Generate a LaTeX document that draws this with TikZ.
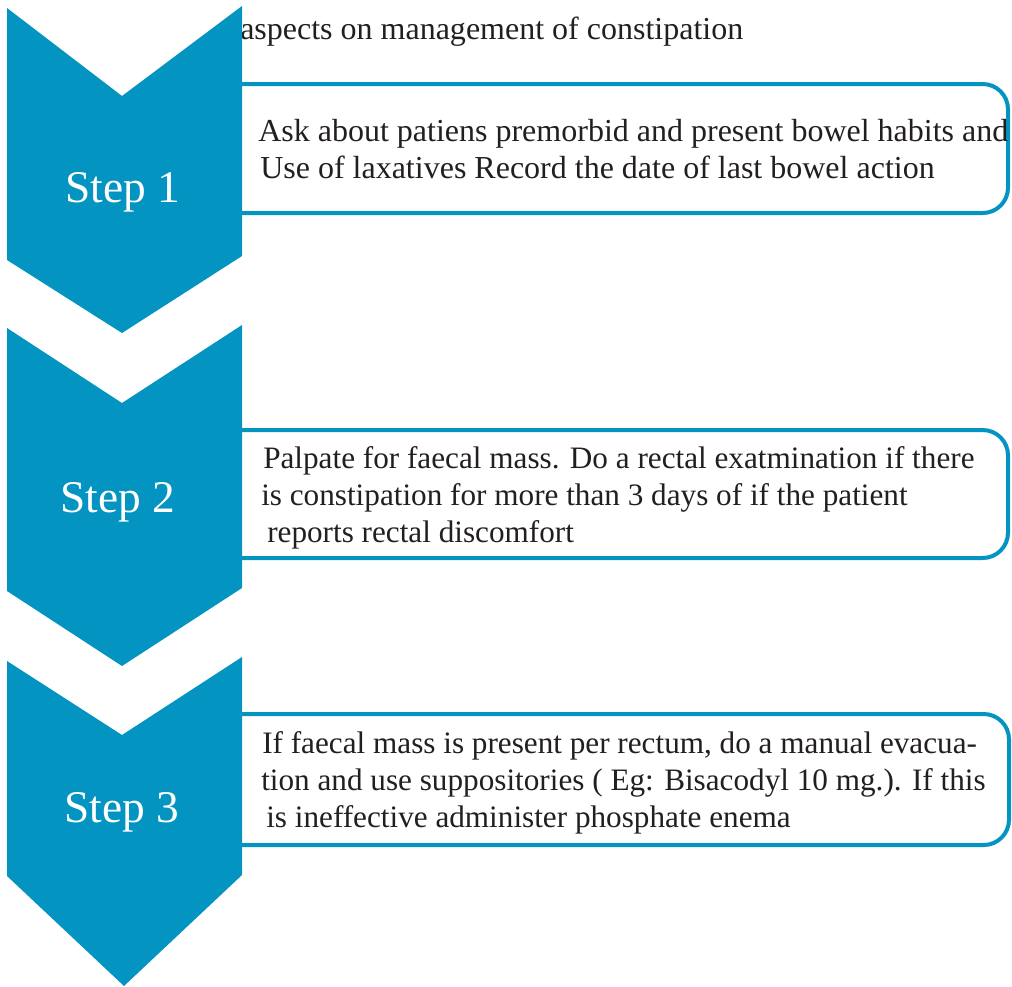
\documentclass[tikz,border=0pt]{standalone}
\usepackage{fontspec}
\setmainfont{Liberation Serif}
\definecolor{stepblue}{RGB}{3,148,193}
\definecolor{ink}{RGB}{35,31,32}
\begin{document}
\begin{tikzpicture}[x=0.75pt,y=-0.75pt,
  chevron/.style={fill=stepblue,draw=none},
  boxshape/.style={draw=stepblue,fill=white,line width=3pt,rounded corners=19pt,inner sep=0pt},
  txt/.style={anchor=base west,inner sep=0pt,text=ink,font=\fontsize{24}{28}\selectfont},
  txtb/.style={anchor=base west,inner sep=0pt,text=ink,font=\fontsize{23.4}{28}\selectfont},
  steplabel/.style={anchor=base west,inner sep=0pt,text=white,font=\fontsize{34}{40}\selectfont}]
\useasboundingbox (0,0) rectangle (1012,986);
% title
\node[txt] (title) at (240,39) {aspects on management of constipation};
% boxes
\node[boxshape,minimum width=593.25pt,minimum height=96.75pt] (b1) at (612.5,148.5) {};
\node[boxshape,minimum width=593.25pt,minimum height=96pt] (b2) at (612.5,494) {};
\node[boxshape,minimum width=594pt,minimum height=98.25pt] (b3) at (613,779.5) {};
% chevrons
\draw[chevron] (7,8) -- (122,96) -- (242,6) -- (242,256) -- (122,333) -- (7,260) -- cycle;
\draw[chevron] (7,328) -- (122,403) -- (242,325) -- (242,588) -- (122,666) -- (7,591) -- cycle;
\draw[chevron] (7,661) -- (122,735) -- (242,657) -- (242,875) -- (124,986) -- (7,876) -- cycle;
% step labels
\node[steplabel] (s1) at (65,202) {Step 1};
\node[steplabel] (s2) at (60,512) {Step 2};
\node[steplabel] (s3) at (64,822) {Step 3};
% box texts
\node[txt] (t1a) at (258,141) {Ask about patiens premorbid and present bowel habits and};
\node[txt] (t1b) at (260,178) {Use of laxatives Record the date of last bowel action};
\node[txtb] (t2a) at (263,468) {Palpate for faecal mass. Do a rectal exatmination if there};
\node[txtb] (t2b) at (261,505) {is constipation for more than 3 days of if the patient};
\node[txtb] (t2c) at (267,542) {reports rectal discomfort};
\node[txtb] (t3a) at (262,753) {If faecal mass is present per rectum, do a manual evacua-};
\node[txtb] (t3b) at (261,790) {tion and use suppositories ( Eg: Bisacodyl 10 mg.). If this};
\node[txtb] (t3c) at (266,827) {is ineffective administer phosphate enema};
\end{tikzpicture}
\end{document}
